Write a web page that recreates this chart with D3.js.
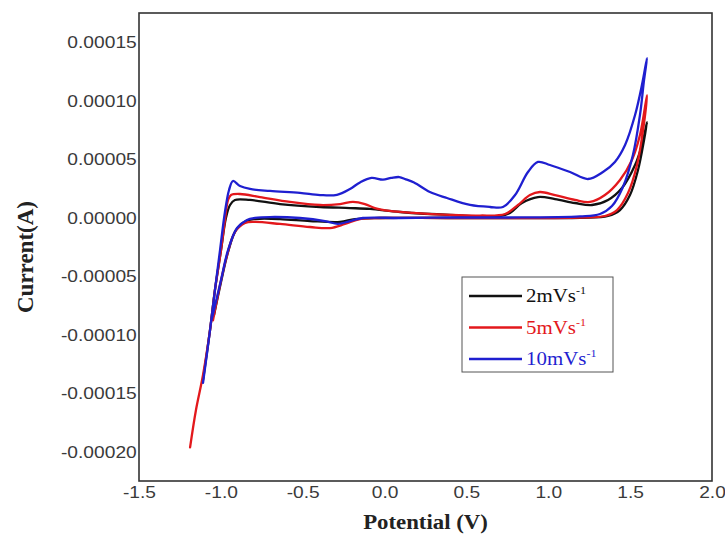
<!DOCTYPE html>
<html>
<head>
<meta charset="utf-8">
<script src="https://cdn.jsdelivr.net/npm/d3@7"></script>
<style>
  html, body { margin: 0; padding: 0; background: #fff; }
  svg { display: block; }
</style>
</head>
<body>
<svg id="chart" width="725" height="534"></svg>
<script>
// ---------------- DATA (Potential V, Current A) ----------------
const seriesNames = ["2mVs", "5mVs", "10mVs"];
const seriesColors = ["#111111", "#e3181c", "#1f1fd0"];

const xTicks = [-1.5, -1.0, -0.5, 0.0, 0.5, 1.0, 1.5, 2.0];
const yTicks = [-0.00020, -0.00015, -0.00010, -0.00005, 0.0, 0.00005, 0.00010, 0.00015];

const cv2 = [
  [-1.109,-138.7e-6],[-1.066,-95.9e-6],[-1.036,-61.7e-6],[-0.999,-27.6e-6],[-0.969,-0.2e-6],
  [-0.944,10.9e-6],[-0.914,15.2e-6],[-0.822,15.2e-6],[-0.639,11.7e-6],[-0.394,9.2e-6],
  [-0.211,8.3e-6],[-0.089,7.5e-6],[0.094,4.9e-6],[0.400,2.4e-6],[0.705,1.5e-6],
  [0.766,4.1e-6],[0.839,12.6e-6],[0.937,17.7e-6],[1.041,16.0e-6],[1.163,12.6e-6],
  [1.267,10.9e-6],[1.365,15.2e-6],[1.450,25.4e-6],[1.530,45.1e-6],[1.572,62.2e-6],
  [1.603,81.8e-6],
  [1.585,66.5e-6],[1.548,40.8e-6],[1.499,19.4e-6],[1.438,6.6e-6],[1.365,1.5e-6],
  [1.194,0.0],[0.400,-0.2e-6],[-0.028,-0.2e-6],[-0.181,-1.1e-6],[-0.272,-3.6e-6],
  [-0.456,-2.8e-6],[-0.639,-1.1e-6],[-0.791,-1.1e-6],[-0.846,-2.8e-6],[-0.907,-10.4e-6],
  [-0.956,-29.3e-6],[-0.999,-54.9e-6],[-1.042,-83.3e-6]
];

const cv5 = [
  [-1.188,-196.2e-6],[-1.152,-164.3e-6],[-1.109,-134.4e-6],[-1.066,-95.9e-6],[-1.036,-61.7e-6],
  [-0.999,-27.6e-6],[-0.975,-1.9e-6],[-0.956,15.2e-6],[-0.938,19.4e-6],[-0.883,20.3e-6],
  [-0.761,17.7e-6],[-0.578,13.5e-6],[-0.394,10.9e-6],[-0.272,11.7e-6],[-0.193,13.5e-6],
  [-0.120,11.7e-6],[-0.059,8.3e-6],[0.033,5.8e-6],[0.174,4.1e-6],[0.400,2.4e-6],
  [0.583,1.9e-6],[0.736,3.2e-6],[0.815,10.9e-6],[0.888,19.4e-6],[0.949,22.0e-6],
  [1.041,19.4e-6],[1.163,15.2e-6],[1.255,13.5e-6],[1.346,19.4e-6],[1.438,32.3e-6],
  [1.511,49.4e-6],[1.560,70.7e-6],[1.603,104.9e-6],
  [1.579,75.0e-6],[1.542,45.1e-6],[1.487,21.1e-6],[1.420,6.6e-6],[1.346,1.5e-6],
  [1.194,0.2e-6],[0.400,-0.2e-6],[-0.028,-0.2e-6],[-0.150,-1.1e-6],[-0.242,-5.3e-6],
  [-0.333,-8.8e-6],[-0.456,-7.9e-6],[-0.639,-5.3e-6],[-0.791,-3.6e-6],[-0.852,-4.5e-6],
  [-0.914,-12.2e-6],[-0.962,-31.8e-6],[-1.005,-57.5e-6],[-1.048,-87.6e-6]
];

const cv10 = [
  [-1.109,-141.2e-6],[-1.066,-95.9e-6],[-1.036,-61.7e-6],[-1.005,-27.6e-6],[-0.975,4.9e-6],
  [-0.950,23.7e-6],[-0.926,31.4e-6],[-0.883,27.1e-6],[-0.822,24.6e-6],[-0.700,22.9e-6],
  [-0.517,21.2e-6],[-0.394,19.4e-6],[-0.291,19.6e-6],[-0.211,24.6e-6],[-0.150,30.2e-6],
  [-0.080,34.0e-6],[-0.010,32.6e-6],[0.040,34.0e-6],[0.090,34.8e-6],[0.130,32.8e-6],
  [0.180,30.2e-6],[0.277,22.0e-6],[0.381,16.9e-6],[0.522,10.9e-6],[0.644,9.2e-6],
  [0.723,9.2e-6],[0.797,19.4e-6],[0.876,39.1e-6],[0.937,47.7e-6],[1.010,45.1e-6],
  [1.133,39.1e-6],[1.242,33.1e-6],[1.334,39.1e-6],[1.407,47.7e-6],[1.469,62.2e-6],
  [1.530,87.8e-6],[1.572,113.4e-6],[1.603,136.5e-6],
  [1.585,117.8e-6],[1.560,87.8e-6],[1.517,53.6e-6],[1.456,26.3e-6],[1.389,10.0e-6],
  [1.316,3.2e-6],[1.194,1.1e-6],[0.705,0.2e-6],[0.400,0.2e-6],[0.094,-0.2e-6],
  [-0.132,-0.2e-6],[-0.211,-2.8e-6],[-0.285,-5.3e-6],[-0.364,-2.8e-6],[-0.517,-0.2e-6],
  [-0.700,0.6e-6],[-0.791,-0.2e-6],[-0.840,-1.9e-6],[-0.901,-8.8e-6],[-0.956,-27.6e-6],
  [-0.999,-53.2e-6],[-1.057,-87.6e-6]
];

const allSeries = [cv2, cv5, cv10];

// ---------------- LAYOUT ----------------
const svg = d3.select("#chart");
const mLeft = 139, mRight = 712, mTop = 13, mBottom = 481;
const stretch = 1.13;

const x = d3.scaleLinear().domain([-1.5, 2.0]).range([mLeft, mRight]);
const y = d3.scaleLinear().domain([-0.000225, 0.000175]).range([mBottom, mTop]);

svg.append("rect").attr("width", 725).attr("height", 534).attr("fill", "#fff");

// curves
const line = d3.line()
  .x(d => x(d[0]))
  .y(d => y(d[1]))
  .curve(d3.curveCatmullRom.alpha(0.5));

allSeries.forEach((s, i) => {
  svg.append("path")
    .datum(s)
    .attr("d", line)
    .attr("fill", "none")
    .attr("stroke", seriesColors[i])
    .attr("stroke-width", 2.3)
    .attr("stroke-linejoin", "round")
    .attr("stroke-linecap", "round");
});

// frame
svg.append("rect")
  .attr("x", mLeft).attr("y", mTop)
  .attr("width", mRight - mLeft).attr("height", mBottom - mTop)
  .attr("fill", "none").attr("stroke", "#333").attr("stroke-width", 1.6);

// axes
const xAxis = d3.axisBottom(x).tickValues(xTicks).tickSize(0).tickPadding(5)
  .tickFormat(d => d.toFixed(1));
const yAxis = d3.axisLeft(y).tickValues(yTicks).tickSize(0).tickPadding(2)
  .tickFormat(d => d.toFixed(5));

const gx = svg.append("g").attr("transform", `translate(0,${mBottom})`).call(xAxis);
const gy = svg.append("g").attr("transform", `translate(${mLeft},0)`).call(yAxis);
[gx, gy].forEach(g => {
  g.select(".domain").remove();
  g.selectAll("text")
    .attr("font-family", "Liberation Sans, Arial, sans-serif")
    .attr("font-size", 17)
    .attr("fill", "#3a3a3a")
    .attr("transform", `scale(${stretch},1)`);
});

// axis titles
svg.append("text")
  .attr("transform", `translate(${(mLeft + mRight) / 2},529) scale(1.14,1)`)
  .attr("text-anchor", "middle")
  .attr("font-family", "Liberation Serif, Times New Roman, serif")
  .attr("font-weight", "bold").attr("font-size", 20)
  .attr("fill", "#222")
  .text("Potential (V)");

svg.append("text")
  .attr("transform", `translate(33,257) rotate(-90)`)
  .attr("text-anchor", "middle")
  .attr("font-family", "Liberation Serif, Times New Roman, serif")
  .attr("font-weight", "bold").attr("font-size", 23)
  .attr("fill", "#222")
  .text("Current(A)");

// legend
const lg = svg.append("g");
lg.append("rect")
  .attr("x", 462).attr("y", 277).attr("width", 151).attr("height", 95)
  .attr("fill", "#fff").attr("stroke", "#555").attr("stroke-width", 1);
seriesNames.forEach((name, i) => {
  const yy = 296 + i * 31.5;
  lg.append("line")
    .attr("x1", 469).attr("x2", 522).attr("y1", yy).attr("y2", yy)
    .attr("stroke", seriesColors[i]).attr("stroke-width", 2.5);
  const t = lg.append("text")
    .attr("transform", `translate(526,${yy + 6}) scale(1.1,1)`)
    .attr("font-family", "Liberation Serif, Times New Roman, serif")
    .attr("font-size", 19)
    .attr("fill", seriesColors[i]);
  t.append("tspan").text(name);
  t.append("tspan").attr("dy", -8).attr("font-size", 11).text("-1");
});
</script>
</body>
</html>
